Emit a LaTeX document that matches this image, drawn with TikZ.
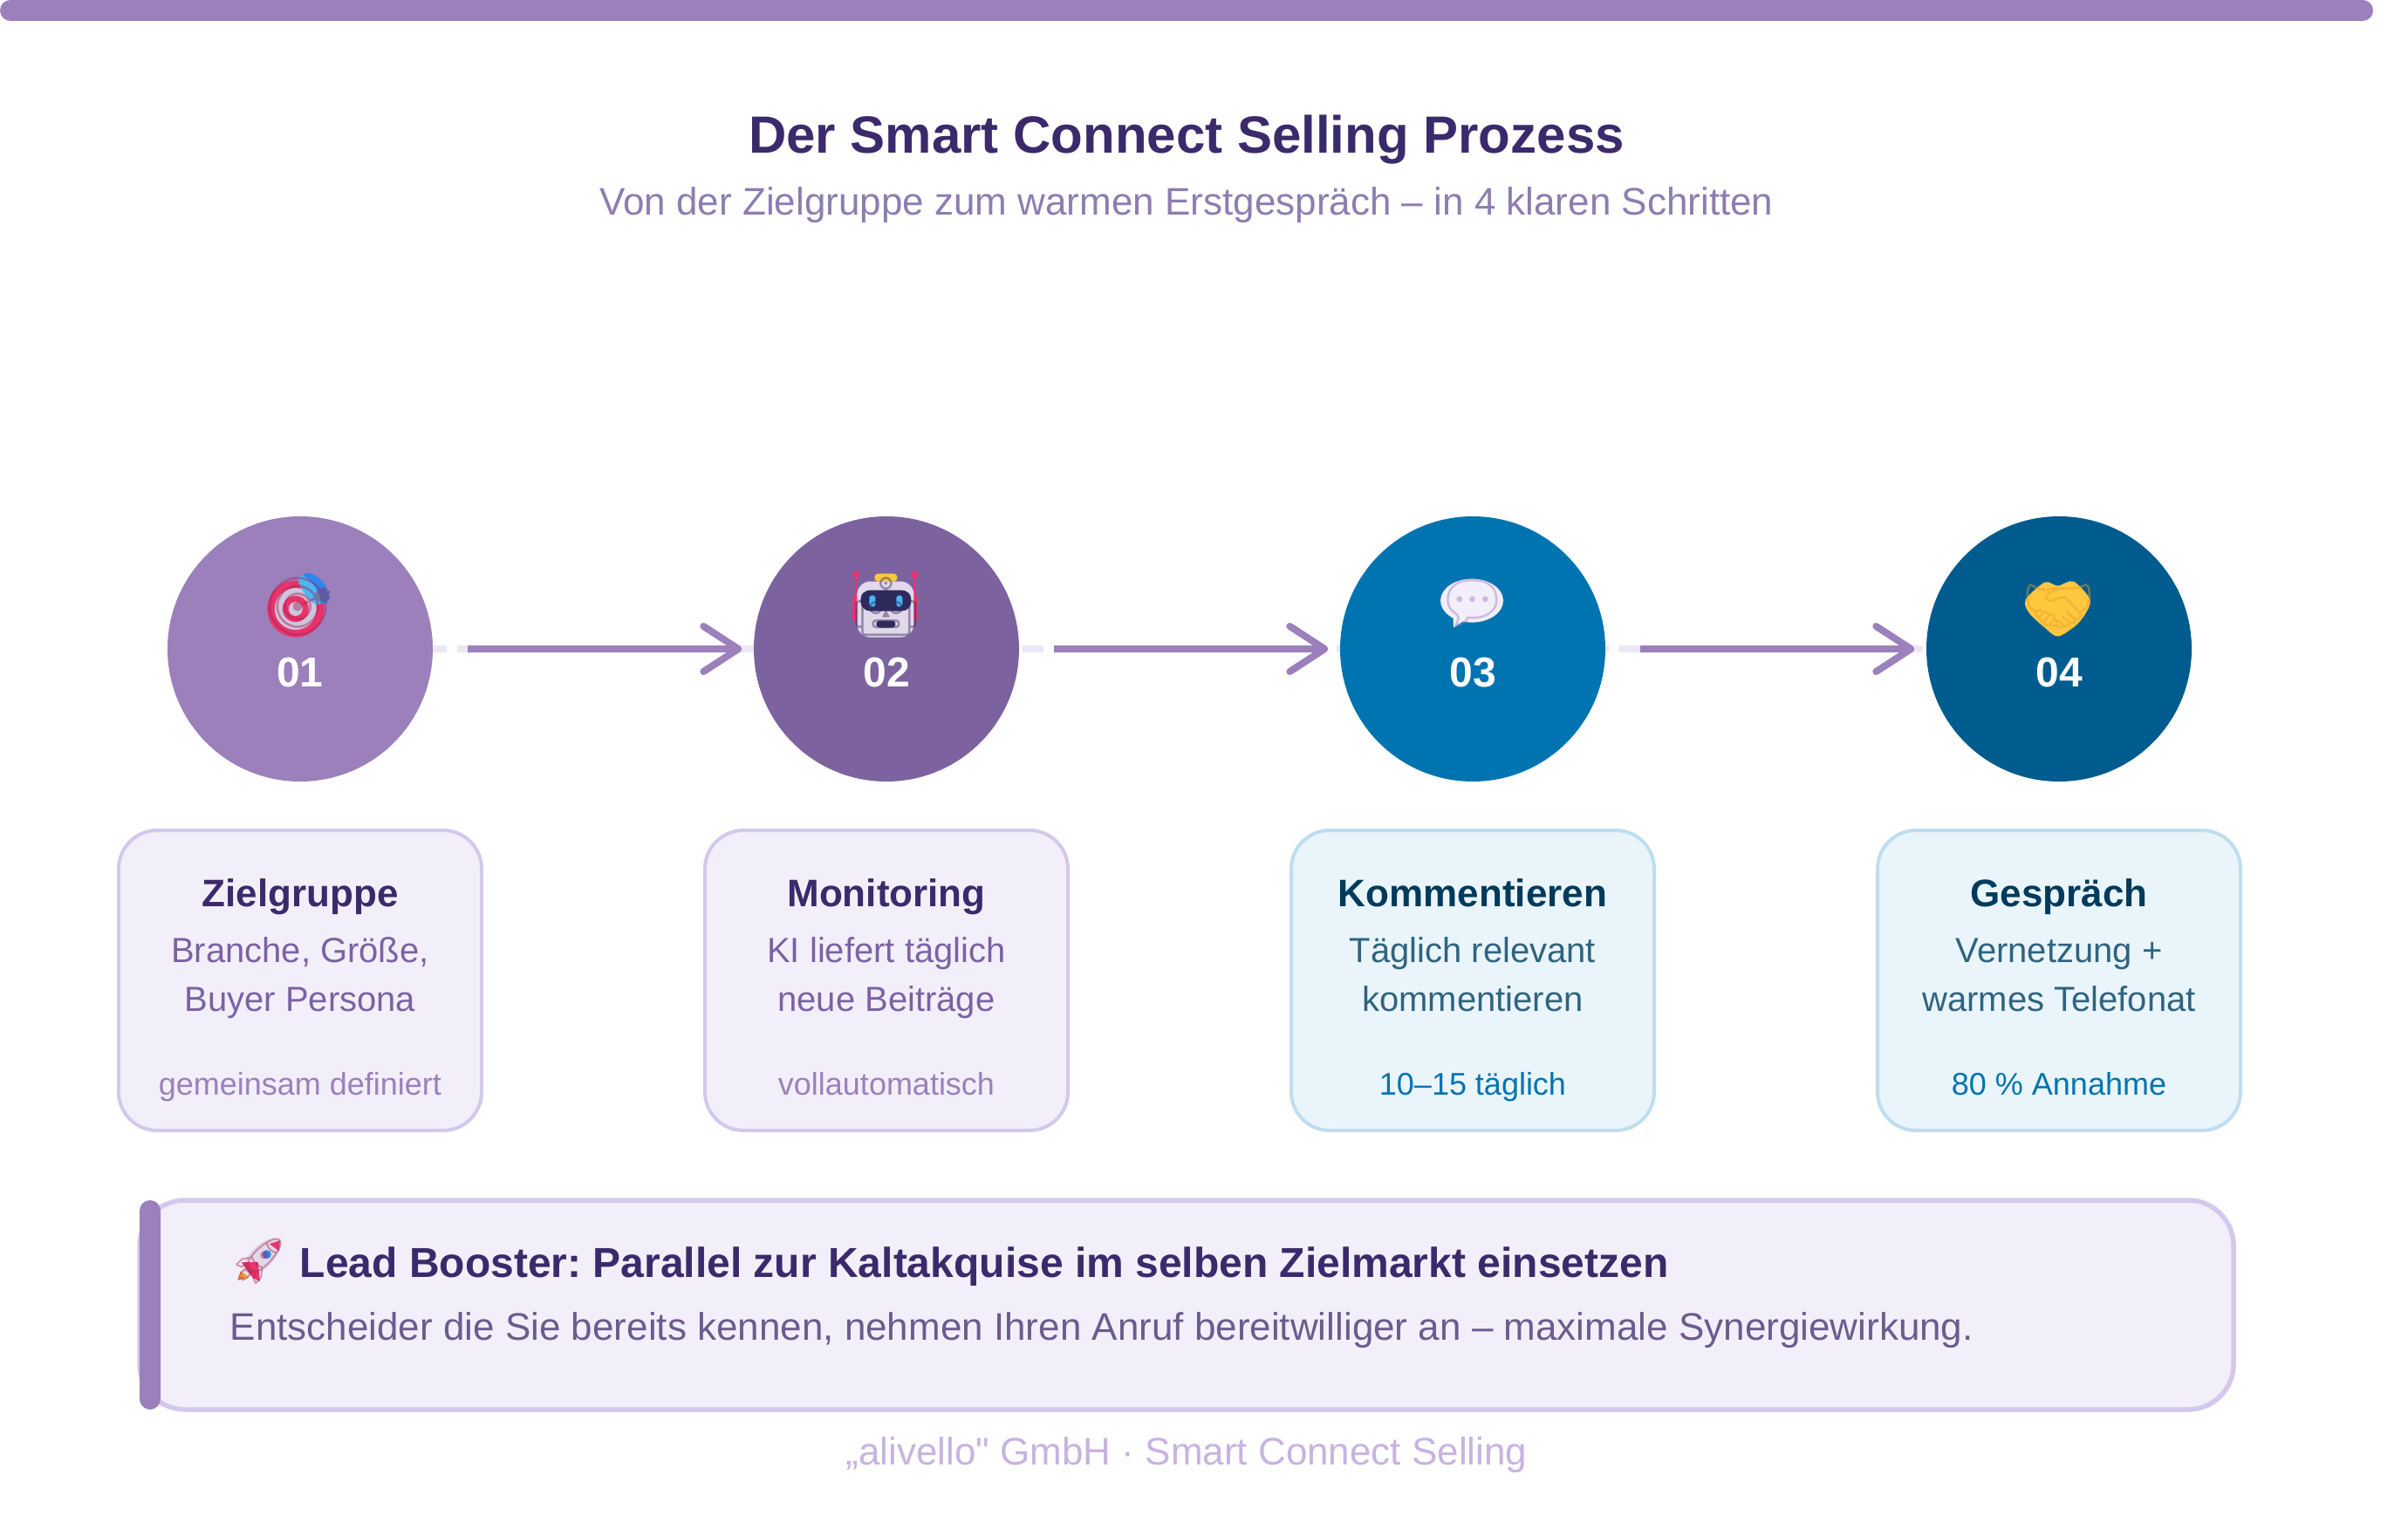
\documentclass[tikz,border=0pt]{standalone}
\usepackage{fontspec}
\usetikzlibrary{arrows.meta, backgrounds}
\setmainfont{Liberation Sans}
\newfontfamily\plainfont{Liberation Sans}
\newfontfamily\emojifont{Noto Emoji}

\definecolor{lila}{HTML}{9B80BC}
\definecolor{lilaDark}{HTML}{7D62A0}
\definecolor{blau}{HTML}{0074B1}
\definecolor{blauDark}{HTML}{005B8E}
\definecolor{lilaFill}{HTML}{F3EFFA}
\definecolor{lilaLine}{HTML}{D4C8EC}
\definecolor{blauFill}{HTML}{EAF5FB}
\definecolor{blauLine}{HTML}{BFDDF0}
\definecolor{ink}{HTML}{3B2A6B}
\definecolor{inkBlau}{HTML}{003A5C}
\definecolor{bodyLila}{HTML}{7B62A3}
\definecolor{bodySub}{HTML}{8D7DB0}
\definecolor{bodyBlau}{HTML}{2F6480}
\definecolor{bodyBox}{HTML}{6B5B8E}
\definecolor{foot}{HTML}{C7B3E0}
\definecolor{dashLila}{HTML}{ECE7F5}
\definecolor{pinkRed}{HTML}{E8336D}
\definecolor{paleRing}{HTML}{CFC5DF}
\definecolor{dartBlue}{HTML}{2F86EE}
\definecolor{dartSky}{HTML}{4AB6F2}
\definecolor{robotHead}{HTML}{E2D8EA}
\definecolor{robotDark}{HTML}{2E2A5C}
\definecolor{sunYellow}{HTML}{FFC83D}
\definecolor{sunOrange}{HTML}{EE9A2E}

\tikzset{
  stepdot/.style={circle, minimum size=3.04cm, inner sep=0},
  stepnum/.style={anchor=base, text=white, font=\fontsize{13.66}{17}\selectfont\bfseries},
  icon/.style={text opacity=.45, font=\fontsize{19}{22}\selectfont\emojifont},
  flow/.style={draw=lila, line width=0.08cm, shorten >=0.13cm,
    -{Straight Barb[length=0.4cm, width=0.52cm, round]}},
  card/.style={rounded corners=0.44cm, line width=0.04cm, minimum width=4.16cm, minimum height=3.44cm},
  cardlila/.style={card, draw=lilaLine, fill=lilaFill},
  cardblau/.style={card, draw=blauLine, fill=blauFill},
  head/.style={anchor=base, font=\fontsize{12.52}{16}\selectfont\bfseries},
  body/.style={anchor=base, font=\fontsize{11.38}{15}\selectfont},
  small/.style={anchor=base, font=\fontsize{10.24}{13}\selectfont},
  pxgrid/.style={x=0.01cm, y=-0.01cm, yshift=17.6cm},
}

\begin{document}
\frenchspacing
\begin{tikzpicture}
    \useasboundingbox (0, 0) rectangle (27.6, 17.6);

    \node [fill=lila, rounded corners=0.12cm, minimum width=27.2cm, minimum height=0.24cm, inner sep=0] (bar) at (13.6, 17.48) {};

    \node [anchor=base, text=ink, font=\fontsize{17.07}{20}\selectfont\bfseries] (title) at (13.6, 15.84) {Der Smart Connect Selling Prozess};
    \node [anchor=base, text=bodySub, font=\fontsize{12.52}{15}\selectfont] (sub) at (13.6, 15.13) {Von der Zielgruppe zum warmen Erstgespräch – in 4 klaren Schritten};

    % steps
    \node [stepdot, fill=lila] (c1) at (3.44, 10.16) {};
    \node [stepdot, fill=lilaDark] (c2) at (10.16, 10.16) {};
    \node [stepdot, fill=blau] (c3) at (16.88, 10.16) {};
    \node [stepdot, fill=blauDark] (c4) at (23.6, 10.16) {};

    % icon colours, pixel coordinates
    \begin{scope}[pxgrid]
      \fill [pinkRed] (339, 698.5) circle (32.5);
      \fill [paleRing] (339, 698.5) circle (24);
      \fill [pinkRed] (339, 698.5) circle (15);
      \fill [paleRing] (339, 698.5) circle (8);
      \fill [dartBlue, rotate around={40:(362, 675)}] (362, 675) ellipse (11 and 21);
      \fill [dartSky, rotate around={35:(355, 677)}] (355, 677) ellipse (7 and 20);

      \fill [pinkRed] (978, 683) rectangle (984, 712);
      \fill [pinkRed] (1048, 683) rectangle (1053, 712);
      \draw [pinkRed, line width=0.02cm] (982, 660) -- (982, 683);
      \draw [pinkRed, line width=0.02cm] (1049, 660) -- (1049, 683);
      \fill [pinkRed] (982, 659) circle (4);
      \fill [pinkRed] (1049, 659) circle (4);
      \fill [sunYellow, rounded corners=0.04cm] (1003, 658) rectangle (1029, 667);
      \fill [robotHead, rounded corners=0.15cm] (983, 667) rectangle (1048, 731);
      \fill [robotDark, rounded corners=0.11cm] (987, 677) rectangle (1045, 701);
      \fill [dartSky, rounded corners=0.03cm] (997, 683) rectangle (1004, 696);
      \fill [dartSky, rounded corners=0.03cm] (1028, 683) rectangle (1035, 696);
      \fill [robotDark, rounded corners=0.04cm] (1005, 712) rectangle (1027, 720);

      \fill [lilaFill] (1688, 689) ellipse (36 and 25);
      \fill [lilaFill] (1666, 700) -- (1667, 720) -- (1682, 710) -- cycle;

      \fill [sunYellow] plot [smooth cycle] coordinates {(2345, 668) (2360, 672) (2378, 667) (2397, 688) (2391, 705) (2380, 718) (2360, 730) (2345, 720) (2327, 703) (2323, 688)};
    \end{scope}

    \node [icon, text=pinkRed!70!black] (e1) at (3.44, 10.64) {🎯};
    \node [icon, text=robotDark] (e2) at (10.16, 10.64) {🤖};
    \node [icon, text=lila] (e3) at (16.88, 10.68) {💬};
    \node [icon, text=sunOrange] (e4) at (23.6, 10.64) {🤝};

    \node [stepnum] (n1) at (3.44, 9.73) {01};
    \node [stepnum] (n2) at (10.16, 9.73) {02};
    \node [stepnum] (n3) at (16.88, 9.73) {03};
    \node [stepnum] (n4) at (23.6, 9.73) {04};

    \begin{pgfonlayer}{background}
      \draw [dashLila, line width=0.08cm, dash pattern=on 0.24cm off 0.12cm] (c1.center) -- (c4.center);
    \end{pgfonlayer}

    \coordinate (a1) at (5.36, 10.16);
    \coordinate (a2) at (12.08, 10.16);
    \coordinate (a3) at (18.8, 10.16);
    \draw [flow] (a1) -- (c2);
    \draw [flow] (a2) -- (c3);
    \draw [flow] (a3) -- (c4);

    % cards
    \node [cardlila] (k1) at (3.44, 6.36) {};
    \node [cardlila] (k2) at (10.16, 6.36) {};
    \node [cardblau] (k3) at (16.88, 6.36) {};
    \node [cardblau] (k4) at (23.6, 6.36) {};

    \node [head, text=ink] (h1) at (3.44, 7.21) {Zielgruppe};
    \node [body, text=bodyLila] (t1a) at (3.44, 6.57) {Branche, Größe,};
    \node [body, text=bodyLila] (t1b) at (3.44, 6.01) {Buyer Persona};
    \node [small, text=lila] (s1) at (3.44, 5.05) {gemeinsam definiert};

    \node [head, text=ink] (h2) at (10.16, 7.21) {Monitoring};
    \node [body, text=bodyLila] (t2a) at (10.16, 6.57) {KI liefert täglich};
    \node [body, text=bodyLila] (t2b) at (10.16, 6.01) {neue Beiträge};
    \node [small, text=lila] (s2) at (10.16, 5.05) {vollautomatisch};

    \node [head, text=inkBlau] (h3) at (16.88, 7.21) {Kommentieren};
    \node [body, text=bodyBlau] (t3a) at (16.88, 6.57) {Täglich relevant};
    \node [body, text=bodyBlau] (t3b) at (16.88, 6.01) {kommentieren};
    \node [small, text=blau] (s3) at (16.88, 5.05) {10–15 täglich};

    \node [head, text=inkBlau] (h4) at (23.6, 7.21) {Gespräch};
    \node [body, text=bodyBlau] (t4a) at (23.6, 6.57) {Vernetzung +};
    \node [body, text=bodyBlau] (t4b) at (23.6, 6.01) {warmes Telefonat};
    \node [small, text=blau] (s4) at (23.6, 5.05) {80 \% Annahme};

    % booster box
    \node [draw=lilaLine, fill=lilaFill, line width=0.055cm, rounded corners=0.52cm, minimum width=24cm, minimum height=2.4cm, inner sep=0] (box) at (13.6, 2.64) {};
    \node [fill=lila, rounded corners=0.12cm, minimum width=0.24cm, minimum height=2.4cm, inner sep=0] (accent) at (1.72, 2.64) {};

    \begin{scope}[pxgrid]
      \fill [robotHead, rotate around={-45:(300, 1442)}] (300, 1442) ellipse (13 and 28);
      \fill [pinkRed] (309, 1427) -- (321, 1423) -- (320, 1435) -- cycle;
      \fill [pinkRed] (277, 1448) -- (296, 1448) -- (298, 1470) -- (290, 1466) -- cycle;
      \fill [sunOrange] (273, 1469) -- (276, 1458) -- (285, 1465) -- cycle;
      \fill [dartBlue] (306, 1439) circle (5);
    \end{scope}

    \node [icon, text=pinkRed!70!black, font=\fontsize{15}{18}\selectfont\emojifont] (e5) at (2.97, 3.14) {🚀};
    \node [anchor=base west, inner sep=0, text=ink, font=\fontsize{13.66}{17}\selectfont\bfseries] (lead) at (3.43, 2.96) {Lead Booster: Parallel zur Kaltakquise im selben Zielmarkt einsetzen};
    \node [anchor=base west, inner sep=0, text=bodyBox, font=\fontsize{12.52}{15}\selectfont] (leadtext) at (2.63, 2.24) {Entscheider die Sie bereits kennen, nehmen Ihren Anruf bereitwilliger an – maximale Synergiewirkung.};

    \node [anchor=base, text=foot, font=\fontsize{12.52}{15}\selectfont\plainfont] (foot) at (13.6, 0.81) {„alivello" GmbH · Smart Connect Selling};
  \end{tikzpicture}
\end{document}
